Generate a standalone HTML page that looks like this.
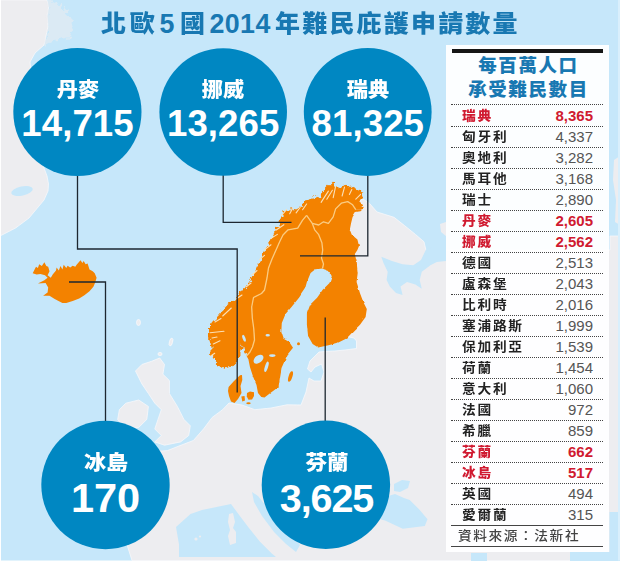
<!DOCTYPE html>
<html lang="zh-Hant"><head><meta charset="utf-8"><title>北歐5國2014年難民庇護申請數量</title>
<style>
html,body{margin:0;padding:0;background:#fff;}
body{width:620px;height:563px;position:relative;overflow:hidden;font-family:"Liberation Sans","Noto Sans CJK TC",sans-serif;}
.tt{position:absolute;top:0;white-space:nowrap;color:#1878b2;transform-origin:0 0;}
.tc{font-weight:900;font-size:23.8px;line-height:48px;letter-spacing:2.1px;transform:scaleX(1.05);}
.td{font-weight:bold;font-size:26.8px;line-height:49px;letter-spacing:.4px;}
.cl{position:absolute;width:140px;text-align:center;color:#fff;font-weight:900;transform:scaleX(1.06);line-height:24px;white-space:nowrap;}
.cn{position:absolute;width:140px;text-align:center;color:#fff;font-weight:bold;line-height:40px;white-space:nowrap;}
.panel{position:absolute;left:445.8px;top:44.5px;width:163.5px;height:507.5px;background:rgba(255,255,255,.95);}
.bar{position:absolute;left:451.5px;top:48.8px;width:151.3px;height:3.9px;background:#161616;}
.hd{position:absolute;left:445px;width:165px;text-align:center;color:#1878b2;font-weight:900;font-size:18.5px;line-height:23px;letter-spacing:1.6px;text-indent:1.9px;white-space:nowrap;}
.row{position:absolute;left:451.3px;width:152px;height:21px;border-top:1px dotted #444;box-sizing:border-box;color:#222;}
.row .n{position:absolute;left:11.2px;top:0;font-size:12.7px;line-height:21px;letter-spacing:1.62px;font-weight:700;white-space:nowrap;transform:scaleX(1.08);transform-origin:0 50%;}
.row .v{position:absolute;right:10.3px;top:-.9px;font-size:15px;line-height:21px;color:#555;white-space:nowrap;}
.row.r0 .n{top:.6px;}.row.r0 .v{top:-.3px;}
.row.hl .n{color:#d01a30;font-weight:900;}
.row.hl .v{color:#d01a30;font-weight:bold;}
.sl{position:absolute;left:451.3px;width:152px;height:1.2px;background:#444;}
.src{position:absolute;left:458px;top:525.9px;font-size:12.7px;line-height:21px;letter-spacing:1.45px;transform:scaleX(1.08);transform-origin:0 50%;color:#444;font-weight:500;white-space:nowrap;}
</style></head><body>
<svg width="620" height="563" viewBox="0 0 620 563" style="position:absolute;left:0;top:0">
<rect x="0" y="0" width="620" height="560.5" fill="#c6e7fa"/>
<g fill="#ededf0" stroke="#f7f8fa" stroke-width="0.8">
<polygon points="0.0,0.0 47.0,0.0 48.5,8.0 47.0,16.0 48.0,26.0 46.0,36.0 44.0,45.0 35.0,53.0 30.0,62.0 32.0,80.0 36.0,110.0 40.0,150.0 44.0,168.0 47.0,176.0 48.5,184.0 48.0,191.0 44.0,200.0 39.0,206.0 29.0,218.0 15.6,228.0 0.0,236.0"/>
<polygon points="47.0,0.0 53.0,0.0 55.0,5.0 60.0,3.0 63.0,10.0 67.0,9.0 70.0,19.0 73.0,30.0 71.0,37.0 62.0,39.0 54.0,41.0 44.0,45.0 46.0,36.0 48.0,26.0 47.0,16.0 48.5,8.0" opacity=".55" stroke="none" filter="url(#jag)"/>
<polygon points="159.7,358.0 164.5,364.5 162.9,374.2 169.4,380.6 169.4,393.5 177.4,406.5 183.9,419.4 190.3,425.8 188.7,435.5 180.6,441.9 164.5,445.2 154.8,441.9 161.3,435.5 154.8,429.0 158.0,419.4 161.3,409.7 154.8,403.2 148.4,393.5 141.9,383.9 135.5,371.0 141.9,364.5 151.6,361.3"/>
<polygon points="125.8,403.2 138.7,400.0 148.4,406.5 146.8,419.4 138.7,427.4 124.2,427.4 117.7,419.4 119.4,409.7"/>
<polygon points="229.0,403.0 222.6,409.7 212.2,417.4 203.5,429.0 193.4,440.5 179.0,446.0 167.4,450.6 150.0,452.0 140.0,460.0 150.0,475.0 165.0,492.0 160.0,510.0 128.0,512.0 124.0,535.0 132.0,560.5 620.0,560.5 620.0,236.0 610.0,236.0 610.0,250.0 432.0,250.0 426.0,250.4 424.0,241.8 415.4,234.4 404.8,225.8 394.0,217.3 383.5,214.0 377.0,212.0 369.6,203.5 363.0,199.0 340.0,210.0 340.0,335.0 354.0,338.0 356.5,341.0 356.5,348.5 345.0,350.0 335.0,351.0 325.0,351.5 319.0,352.0 314.0,357.0 310.0,361.0 307.5,369.0 311.0,372.0 315.0,367.0 321.5,364.0 324.0,372.0 321.0,381.0 314.0,381.0 309.0,378.0 306.0,392.0 301.0,405.0 287.0,404.8 271.0,408.0 254.8,409.7 242.0,405.0"/>
<ellipse cx="138.5" cy="322.5" rx="2" ry="3"/>
<ellipse cx="171" cy="342" rx="1.6" ry="4" transform="rotate(15 171 342)"/>
<ellipse cx="160" cy="354" rx="2" ry="1.6"/>
</g>
<g fill="#c6e7fa">
<polygon points="381.3,256.8 392.0,261.0 402.6,264.2 413.3,265.3 421.0,260.0 426.0,249.5 432.0,247.5 446.0,247.5 446.0,261.0 436.8,262.0 430.4,265.3 421.8,271.7 419.7,280.0 421.8,288.7 415.4,284.5 407.0,282.0 400.5,286.6 402.6,295.0 396.0,293.0 389.8,286.6 386.6,280.0 387.7,271.7 383.5,263.0"/>
<polygon points="176.0,527.0 190.5,514.0 202.0,510.0 216.5,507.0 231.0,504.0 239.7,515.7 248.4,527.3 260.0,541.7 271.5,553.3 276.0,557.0 179.0,557.0 179.0,544.6"/>
<polygon points="252.0,492.0 258.0,496.0 266.0,506.0 276.0,518.0 290.0,532.0 300.0,545.0 296.0,552.0 286.0,544.0 274.0,532.0 262.0,516.0 254.0,502.0"/>
<polygon points="385.0,497.0 395.0,494.0 404.0,498.0 409.7,500.0 419.3,509.6 427.5,519.2 424.8,526.0 402.8,528.8 385.0,520.6 375.0,518.0 375.0,500.0"/>
<polygon points="394.0,484.0 402.0,480.0 410.0,481.0 408.0,488.0 400.0,492.0 394.0,491.0"/>
<rect x="609.5" y="512" width="11" height="49"/>
<rect x="570" y="552" width="51" height="9"/>
<rect x="471" y="553" width="16" height="8"/>
<ellipse cx="22" cy="191" rx="11" ry="4.5" transform="rotate(-12 22 191)"/>
</g>
<g fill="#ededf0">
<polygon points="229.0,514.0 233.0,513.0 235.0,522.0 233.0,528.0 236.0,532.0 236.0,543.0 230.0,545.0 228.0,536.0 230.0,530.0 228.0,522.0"/>
<polygon points="614,160 620,156 620,225 615,222 616,200 613,180"/>
<polygon points="440,224 446,222 446,236 441,232"/>
<circle cx="196" cy="539" r="1.6"/><circle cx="200" cy="536.5" r="1.1"/>
</g>
<rect x="0" y="0" width="1" height="563" fill="#fff"/>
<rect x="618" y="0" width="2" height="560.5" fill="#d9effc"/>
<defs><clipPath id="cpW"><polygon points="246.5,356 250,352 252.5,347 254.5,340 253.8,329 252.3,318 251.7,307 253.5,297.5 261.5,293.5 264.5,290 267,278 268.5,268 272,259 276,250 280,241 283,235 288.1,229.8 297.7,228.2 302.6,220.2 306.6,215.3 312.3,223.4 318.7,225 323.5,221.8 328.4,223.4 333.2,216.9 335.6,208.9 341.3,203.2 347.7,201.6 352.6,204.8 355.8,209.7 380,209.7 380,170 190,170 190,420 246.5,420"/></clipPath><clipPath id="cpE"><polygon points="246.5,356 250,352 252.5,347 254.5,340 253.8,329 252.3,318 251.7,307 253.5,297.5 261.5,293.5 264.5,290 267,278 268.5,268 272,259 276,250 280,241 283,235 288.1,229.8 297.7,228.2 302.6,220.2 306.6,215.3 312.3,223.4 318.7,225 323.5,221.8 328.4,223.4 333.2,216.9 335.6,208.9 341.3,203.2 347.7,201.6 352.6,204.8 355.8,209.7 380,209.7 380,420 246.5,420"/></clipPath><filter id="jag2" x="-5%" y="-5%" width="110%" height="110%"><feTurbulence type="fractalNoise" baseFrequency="0.12" numOctaves="2" seed="3" result="n"/><feDisplacementMap in="SourceGraphic" in2="n" scale="2.5" xChannelSelector="R" yChannelSelector="G"/></filter><filter id="jag" x="-5%" y="-5%" width="110%" height="110%"><feTurbulence type="fractalNoise" baseFrequency="0.16" numOctaves="3" seed="7" result="n"/><feDisplacementMap in="SourceGraphic" in2="n" scale="9" xChannelSelector="R" yChannelSelector="G"/></filter></defs>
<g fill="#f38200">
<g clip-path="url(#cpE)"><polygon points="209.0,325.2 213.5,319.5 219.0,313.9 227.5,304.8 238.5,296.0 245.2,287.4 250.5,280.6 256.0,269.4 261.0,258.0 265.5,251.3 270.5,240.0 275.0,231.0 281.0,219.7 280.0,216.1 284.8,211.3 289.7,209.7 296.1,208.9 301.0,206.5 304.2,202.4 312.3,197.6 318.7,196.0 323.5,191.1 331.6,183.1 334.8,187.1 339.7,185.5 344.5,184.7 352.6,187.9 362.3,192.7 363.9,196.8 359.0,199.2 361.5,204.8 363.9,208.1 360.6,211.3 355.8,212.1 352.6,216.9 351.0,223.4 349.8,229.8 351.8,234.7 357.4,239.5 359.0,246.0 357.4,250.0 354.8,254.0 356.6,261.6 357.7,272.9 356.6,281.9 360.0,293.2 363.4,302.3 366.8,309.0 365.6,316.9 360.0,324.8 353.2,331.6 346.5,338.4 337.4,342.9 328.4,345.2 318.2,347.4 312.6,344.0 308.1,336.1 306.9,324.8 306.9,313.5 310.3,304.5 317.1,297.7 322.7,289.8 329.5,283.1 331.8,276.3 329.0,271.0 322.0,268.6 315.0,269.5 310.6,272.9 306.9,281.9 305.0,288.7 299.0,297.7 291.5,307.1 285.5,313.9 281.8,322.9 281.3,331.9 283.5,338.7 289.2,342.1 293.0,347.7 287.5,354.5 284.5,361.3 281.5,368.0 280.0,377.1 278.5,387.0 271.0,392.5 264.5,397.6 261.3,397.1 258.0,393.0 256.5,385.0 253.2,377.0 250.0,367.3 248.4,359.2 246.0,355.0 244.3,349.0 242.7,345.5 241.8,351.0 240.3,356.0 237.3,360.0 231.6,366.0 224.8,368.7 216.9,365.0 212.4,357.8 211.3,347.7 209.0,336.5" filter="url(#jag2)"/></g>
<g clip-path="url(#cpW)"><polygon points="209.0,325.2 213.5,319.5 219.0,313.9 227.5,304.8 238.5,296.0 245.2,287.4 250.5,280.6 256.0,269.4 261.0,258.0 265.5,251.3 270.5,240.0 275.0,231.0 281.0,219.7 280.0,216.1 284.8,211.3 289.7,209.7 296.1,208.9 301.0,206.5 304.2,202.4 312.3,197.6 318.7,196.0 323.5,191.1 331.6,183.1 334.8,187.1 339.7,185.5 344.5,184.7 352.6,187.9 362.3,192.7 363.9,196.8 359.0,199.2 361.5,204.8 363.9,208.1 360.6,211.3 355.8,212.1 352.6,216.9 351.0,223.4 349.8,229.8 351.8,234.7 357.4,239.5 359.0,246.0 357.4,250.0 354.8,254.0 356.6,261.6 357.7,272.9 356.6,281.9 360.0,293.2 363.4,302.3 366.8,309.0 365.6,316.9 360.0,324.8 353.2,331.6 346.5,338.4 337.4,342.9 328.4,345.2 318.2,347.4 312.6,344.0 308.1,336.1 306.9,324.8 306.9,313.5 310.3,304.5 317.1,297.7 322.7,289.8 329.5,283.1 331.8,276.3 329.0,271.0 322.0,268.6 315.0,269.5 310.6,272.9 306.9,281.9 305.0,288.7 299.0,297.7 291.5,307.1 285.5,313.9 281.8,322.9 281.3,331.9 283.5,338.7 289.2,342.1 293.0,347.7 287.5,354.5 284.5,361.3 281.5,368.0 280.0,377.1 278.5,387.0 271.0,392.5 264.5,397.6 261.3,397.1 258.0,393.0 256.5,385.0 253.2,377.0 250.0,367.3 248.4,359.2 246.0,355.0 244.3,349.0 242.7,345.5 241.8,351.0 240.3,356.0 237.3,360.0 231.6,366.0 224.8,368.7 216.9,365.0 212.4,357.8 211.3,347.7 209.0,336.5" filter="url(#jag)"/></g>
<polygon points="228.6,387.0 234.0,381.0 240.0,375.3 242.0,375.0 242.3,380.0 240.5,386.0 241.5,393.0 238.0,399.0 234.5,403.0 231.0,401.5 229.0,396.0 228.0,391.0"/>
<polygon points="241.3,396.5 244.5,396.0 245.0,400.5 242.3,401.5"/>
<polygon points="247.0,393.0 250.0,391.5 254.0,392.2 254.0,396.0 252.0,399.5 248.5,399.8 246.8,396.5"/>
<polygon points="32.7,273.2 36.0,266.8 37.9,268.1 39.2,264.2 41.8,266.1 44.4,262.3 46.3,266.1 48.2,266.8 49.5,271.3 47.6,275.2 50.8,277.7 52.7,274.5 56.0,270.6 56.6,267.4 58.8,270.6 60.5,266.1 62.4,269.4 63.7,264.8 66.3,268.1 67.6,265.7 70.2,267.4 72.7,265.7 75.3,266.8 76.6,264.8 80.5,260.3 82.4,262.9 83.7,261.0 85.6,264.2 87.6,263.5 89.5,269.4 92.7,271.3 94.7,273.2 96.6,277.7 95.3,282.3 93.4,286.8 89.5,291.3 84.4,295.2 79.2,298.4 72.7,301.0 66.3,302.9 62.4,302.9 58.5,301.0 54.7,299.0 49.5,295.8 43.1,295.8 47.6,292.6 48.2,287.4 45.6,282.9 37.9,283.5 44.4,280.3 47.6,277.7 45.0,275.2 40.5,273.9 36.6,274.5"/>
<ellipse cx="290.5" cy="376.5" rx="1.9" ry="5.4" transform="rotate(18 290.5 376.5)"/>
<circle cx="298.5" cy="343.8" r="1.5"/>
<ellipse cx="248.5" cy="403.3" rx="2.2" ry="1"/>
</g>
<g fill="#c6e7fa">
<ellipse cx="258.5" cy="359.2" rx="5.6" ry="3.6" transform="rotate(-38 258.5 359.2)"/>
<ellipse cx="266.5" cy="366.8" rx="1.6" ry="5.4" transform="rotate(17 266.5 366.8)"/>
<ellipse cx="272.3" cy="355.6" rx="3.2" ry="1.3"/>
<ellipse cx="244" cy="338.3" rx="1.4" ry="3.6" transform="rotate(-20 244 338.3)"/>
<ellipse cx="267.7" cy="335.3" rx="2.2" ry="1.2"/>
</g>
<g stroke="#fbe0b6" stroke-width="1.1" stroke-linecap="round" fill="none"><line x1="210" y1="332.7" x2="224" y2="331.3"/><line x1="213.3" y1="344" x2="220" y2="340.7"/><line x1="210.7" y1="356" x2="214.7" y2="353.3"/><line x1="222.7" y1="316" x2="231.3" y2="308"/><line x1="321.1" y1="202.4" x2="328.4" y2="191.1"/><line x1="326.8" y1="199.2" x2="332.4" y2="190.3"/><line x1="333.2" y1="197.6" x2="335.6" y2="186.3"/><line x1="342.1" y1="196" x2="344.5" y2="187.1"/><line x1="349.4" y1="194.4" x2="351.8" y2="189.5"/><line x1="355.8" y1="199.2" x2="360.6" y2="194.4"/><line x1="281.6" y1="215.3" x2="286.5" y2="209.7"/><line x1="289.7" y1="213.7" x2="292.9" y2="208"/><line x1="296.1" y1="212.9" x2="300.2" y2="207.3"/><line x1="302.6" y1="209.7" x2="306.6" y2="204"/><line x1="275.8" y1="230.3" x2="283.9" y2="224.7"/><line x1="271" y1="238.4" x2="277.4" y2="234.4"/><line x1="264.5" y1="249.7" x2="271" y2="244.8"/><line x1="259.7" y1="259.4" x2="264.5" y2="255.3"/><line x1="252" y1="275" x2="257" y2="270.5"/><line x1="246" y1="287" x2="251" y2="283"/><line x1="236" y1="299" x2="242" y2="295"/><line x1="215" y1="322" x2="221" y2="318.5"/><line x1="212" y1="338" x2="217" y2="337"/></g>
<g fill="none" stroke="#fbcb80" stroke-width="1.3" stroke-linejoin="round">
<polyline points="306.6,215.3 302.6,220.2 297.7,228.2 288.1,229.8 283,235 280,241 276,250 272,259 268.5,268 267,278 264.5,290 261.5,293.5 253.5,297.5 251.7,307 252.3,318 253.8,329 254.5,340 252.5,347 250,352 246.5,356"/>
<polyline points="306.6,215.3 312.3,223.4 318.7,225 323.5,221.8 328.4,223.4 333.2,216.9 335.6,208.9 341.3,203.2 347.7,201.6 352.6,204.8 355.8,209.7"/>
<polyline points="312.3,223.4 314.7,229.8 318.7,234.7 321.9,242.7 322.7,250 321.5,258 323.5,264 322.5,268.5"/>
</g>
<g fill="none" stroke="#1d2730" stroke-width="1.3">
<polyline points="77.5,175 77.5,249 237.2,249 237.2,392.5"/>
<polyline points="223.2,175 223.2,222.3 291.5,222.3"/>
<polyline points="367.8,175 367.8,255.8 300,255.8"/>
<polyline points="69,282 105.5,282 105.5,422"/>
<polyline points="325.2,317.5 325.2,422"/>
</g>
<g fill="#0087c2">
<circle cx="77.4" cy="112" r="64.1"/>
<circle cx="223.2" cy="112" r="63.8"/>
<circle cx="367.7" cy="112" r="63.9"/>
<circle cx="105.5" cy="485" r="64.2"/>
<circle cx="325.9" cy="484.7" r="64.2"/>
</g>
</svg>
<div class="tt tc" style="left:101px;letter-spacing:3.7px">北歐</div><div class="tt td" style="left:159.5px">5</div><div class="tt tc" style="left:179.5px">國</div><div class="tt td" style="left:209.5px">2014</div><div class="tt tc" style="left:274.5px">年難民庇護申請數量</div>
<div class="cl" style="left:7.5px;top:78px;font-size:20px">丹麥</div><div class="cn" style="left:7.5px;top:104px;font-size:36.6px;letter-spacing:0.1px">14,715</div>

<div class="cl" style="left:153.2px;top:78px;font-size:20px">挪威</div><div class="cn" style="left:153.2px;top:104px;font-size:36.6px;letter-spacing:0.1px">13,265</div>

<div class="cl" style="left:297.8px;top:78px;font-size:20px">瑞典</div><div class="cn" style="left:297.8px;top:104px;font-size:36.6px;letter-spacing:0.1px">81,325</div>

<div class="cl" style="left:35.5px;top:451px;font-size:20.8px">冰島</div><div class="cn" style="left:35.5px;top:477.7px;font-size:41.5px;letter-spacing:0px">170</div>

<div class="cl" style="left:256.5px;top:450.6px;font-size:20.4px">芬蘭</div><div class="cn" style="left:256.5px;top:478px;font-size:39.5px;letter-spacing:-1.1px">3,625</div>

<div class="panel"></div>
<div class="bar"></div>
<div class="hd" style="top:54px">每百萬人口</div>
<div class="hd" style="top:77.8px">承受難民數目</div>
<div class="row hl r0" style="top:104.4px;height:21.6px"><span class="n">瑞典</span><span class="v">8,365</span></div>
<div class="row" style="top:126px;height:21px"><span class="n">匈牙利</span><span class="v">4,337</span></div>
<div class="row" style="top:147px;height:21px"><span class="n">奧地利</span><span class="v">3,282</span></div>
<div class="row" style="top:168px;height:21px"><span class="n">馬耳他</span><span class="v">3,168</span></div>
<div class="row" style="top:189px;height:21px"><span class="n">瑞士</span><span class="v">2,890</span></div>
<div class="row hl" style="top:210px;height:21px"><span class="n">丹麥</span><span class="v">2,605</span></div>
<div class="row hl" style="top:231px;height:21px"><span class="n">挪威</span><span class="v">2,562</span></div>
<div class="row" style="top:252px;height:21px"><span class="n">德國</span><span class="v">2,513</span></div>
<div class="row" style="top:273px;height:21px"><span class="n">盧森堡</span><span class="v">2,043</span></div>
<div class="row" style="top:294px;height:21px"><span class="n">比利時</span><span class="v">2,016</span></div>
<div class="row" style="top:315px;height:21px"><span class="n">塞浦路斯</span><span class="v">1,999</span></div>
<div class="row" style="top:336px;height:21px"><span class="n">保加利亞</span><span class="v">1,539</span></div>
<div class="row" style="top:357px;height:21px"><span class="n">荷蘭</span><span class="v">1,454</span></div>
<div class="row" style="top:378px;height:21px"><span class="n">意大利</span><span class="v">1,060</span></div>
<div class="row" style="top:399px;height:21px"><span class="n">法國</span><span class="v">972</span></div>
<div class="row" style="top:420px;height:21px"><span class="n">希臘</span><span class="v">859</span></div>
<div class="row hl" style="top:441px;height:21px"><span class="n">芬蘭</span><span class="v">662</span></div>
<div class="row hl" style="top:462px;height:21px"><span class="n">冰島</span><span class="v">517</span></div>
<div class="row" style="top:483px;height:21px"><span class="n">英國</span><span class="v">494</span></div>
<div class="row" style="top:504px;height:21px"><span class="n">愛爾蘭</span><span class="v">315</span></div>

<div class="sl" style="top:524.6px"></div>
<div class="src">資料來源：法新社</div>
<div class="sl" style="top:545.6px"></div>
</body></html>
